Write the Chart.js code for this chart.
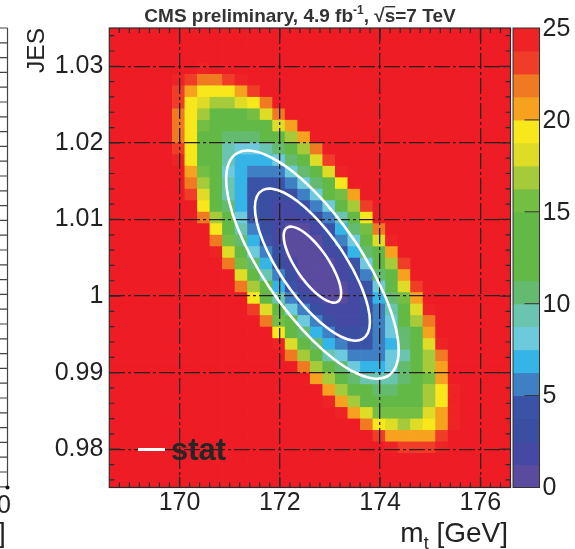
<!DOCTYPE html>
<html lang="en">
<head>
<meta charset="UTF-8">
<title>JES vs mt likelihood map</title>
<script src="https://cdn.jsdelivr.net/npm/chart.js@4.4.0/dist/chart.umd.min.js"></script>
<style>
  html, body { margin: 0; padding: 0; background: #fff; }
  #wrap { width: 575px; height: 549px; position: relative; }
</style>
</head>
<body>
<div id="wrap"><canvas id="lik"></canvas></div>
<script>
  const FONT = "'Liberation Sans', Arial, Helvetica, sans-serif";

  // bin centres of the map
  const mtBins = [168.725, 168.975, 169.225, 169.475, 169.725, 169.975, 170.225, 170.475,
    170.725, 170.975, 171.225, 171.475, 171.725, 171.975, 172.225, 172.475,
    172.725, 172.975, 173.225, 173.475, 173.725, 173.975, 174.225, 174.475,
    174.725, 174.975, 175.225, 175.475, 175.725, 175.975, 176.225, 176.475];
  // top row first
  const jesBins = [1.03425, 1.03275, 1.03125, 1.02975, 1.02825, 1.02675, 1.02525, 1.02375,
    1.02225, 1.02075, 1.01925, 1.01775, 1.01625, 1.01475, 1.01325, 1.01175,
    1.01025, 1.00875, 1.00725, 1.00575, 1.00425, 1.00275, 1.00125, 0.99975,
    0.99825, 0.99675, 0.99525, 0.99375, 0.99225, 0.99075, 0.98925, 0.98775,
    0.98625, 0.98475, 0.98325, 0.98175, 0.98025, 0.97875, 0.97725, 0.97575];

  // -2 dlnL per cell, read as colour band: 0-9 then A-J = band 10-19 (1.25 wide each).
  // rowStart = first m_t bin that is below 25, all other cells are above 25
  const rowStart = [0, 0, 0, 7, 5, 5, 5, 5, 5, 5, 5, 5, 6, 6, 6, 7, 7, 8, 8, 8,
    9, 10, 10, 11, 11, 12, 13, 13, 14, 15, 16, 17, 17, 18, 20, 21, 22, 0, 0, 0];
  const rowCodes = ['', '', '', 'J', 'JIHHIJ', 'IGFFFGI', 'IFEDDEFH', 'HFDBBBCEH',
    'HFCA99ABEG', 'HFB98889BDG', 'IFB976678ADH', 'JFB9755568AEI', 'GC96544468BEJ',
    'HD975333468BF', 'IEA753222469CG', 'FB8532112469DI', 'HD9632111247BF',
    'FA7421001358CH', 'HC8531000246AEJ', 'JEA6420001258BG', 'HC85210001369DI',
    'EA7420001248BG', 'HD95310001369EI', 'FB7421001358CG', 'IEA642111247AEJ',
    'HC9642112469DH', 'FB854223468BG', 'JEA85433458BEJ', 'HDA7644467ADH',
    'HDA865568ADG', 'GDA87778ACG', 'GDB9889ADFJ', 'JGDBAAABDFJ', 'JGECCCCEGJ',
    'HFEDEFGJ', 'IGGGGI', 'JIIIJ', '', '', ''];

  const zTicks = [0, 5, 10, 15, 20, 25];
  const zStep = 1.25;
  const zColors = ['#5a4b9f', '#4549a3', '#3a4ea2', '#3b53a6', '#3f80c4', '#35b4e8',
    '#6ccadc', '#69c5b0', '#64bb70', '#63b946', '#63b946', '#63b946', '#74be43',
    '#a6cb3a', '#dedc26', '#f8e71b', '#f6a21e', '#f07a22', '#ef3d28', '#ee2326'];
  const overColor = '#ee1c25';

  const mtTicks = [170, 172, 174, 176];
  const jesTicks = [0.98, 0.99, 1, 1.01, 1.02, 1.03];
  const jesTickLabels = ['0.98', '0.99', '1', '1.01', '1.02', '1.03'];

  // stat contours (1, 2, 3 sigma)
  const sig1mt = [173.055, 172.937, 172.798, 172.650, 172.502, 172.363, 172.245, 172.154, 172.096,
    172.077, 172.096, 172.154, 172.245, 172.363, 172.502, 172.650, 172.798, 172.937, 173.055,
    173.146, 173.204, 173.223, 173.204, 173.146, 173.055];
  const sig1jes = [1.003789, 1.005082, 1.006309, 1.007385, 1.008237, 1.008808, 1.009057, 1.008969,
    1.008548, 1.007825, 1.006848, 1.005683, 1.004411, 1.003118, 1.001891, 1.000815, 0.999963,
    0.999392, 0.999143, 0.999231, 0.999652, 1.000375, 1.001352, 1.002517, 1.003789];
  const sig2mt = [173.461, 173.223, 172.947, 172.650, 172.353, 172.077, 171.839, 171.657, 171.542,
    171.503, 171.542, 171.657, 171.839, 172.077, 172.353, 172.650, 172.947, 173.223, 173.461,
    173.643, 173.758, 173.797, 173.758, 173.643, 173.461];
  const sig2jes = [1.003478, 1.006065, 1.008518, 1.010670, 1.012374, 1.013515, 1.014013, 1.013836,
    1.012995, 1.011550, 1.009595, 1.007267, 1.004722, 1.002135, 0.999682, 0.997530, 0.995826,
    0.994685, 0.994187, 0.994364, 0.995205, 0.996650, 0.998605, 1.000933, 1.003478];
  const sig3mt = [173.866, 173.510, 173.095, 172.650, 172.205, 171.790, 171.434, 171.161, 170.989,
    170.930, 170.989, 171.161, 171.434, 171.790, 172.205, 172.650, 173.095, 173.510, 173.866,
    174.140, 174.311, 174.370, 174.311, 174.140, 173.866];
  const sig3jes = [1.003167, 1.007047, 1.010728, 1.013955, 1.016512, 1.018222, 1.018970, 1.018705,
    1.017444, 1.015275, 1.012343, 1.008850, 1.005033, 1.001153, 0.997472, 0.994245, 0.991688,
    0.989978, 0.989230, 0.989495, 0.990756, 0.992925, 0.995857, 0.999350, 1.003167];

  const CODE = '0123456789ABCDEFGHIJ';
  function cellValue(r, k) {
    const i = k - rowStart[r];
    if (i < 0 || i >= rowCodes[r].length) return 26;
    return CODE.indexOf(rowCodes[r][i]) * zStep + zStep / 2;
  }
  function cellColor(v) {
    return v >= 25 ? overColor : zColors[Math.floor(v / zStep)];
  }
  const pts = (xs, ys) => xs.map((x, i) => ({ x: x, y: ys[i] }));

  const heatmap = {
    id: 'heatmap',
    beforeDraw(chart) {
      const { ctx, chartArea: a, scales: { x, y } } = chart;
      const hw = (mtBins[1] - mtBins[0]) / 2;
      const hh = (jesBins[0] - jesBins[1]) / 2;
      ctx.save();
      ctx.beginPath();
      ctx.rect(a.left, a.top, a.right - a.left, a.bottom - a.top);
      ctx.clip();
      jesBins.forEach((jes, r) => {
        const t = y.getPixelForValue(jes + hh), b = y.getPixelForValue(jes - hh);
        mtBins.forEach((mt, k) => {
          const l = x.getPixelForValue(mt - hw), rt = x.getPixelForValue(mt + hw);
          ctx.fillStyle = cellColor(cellValue(r, k));
          ctx.fillRect(l, t, rt - l + 0.7, b - t + 0.7);
        });
      });
      ctx.restore();
    }
  };

  const decor = {
    id: 'decor',
    afterDraw(chart) {
      const { ctx, chartArea: a, scales: { x, y, z } } = chart;
      ctx.save();
      // frame + inward ticks
      ctx.strokeStyle = '#2a2a2a';
      ctx.lineWidth = 1.2;
      ctx.strokeRect(a.left, a.top, a.right - a.left, a.bottom - a.top);
      ctx.beginPath();
      for (let v = 168.8; v < 176.6; v += 0.2) {
        const px = x.getPixelForValue(v);
        const len = Math.abs(v / 2 - Math.round(v / 2)) < 0.01 ? 11 : 5;
        ctx.moveTo(px, a.bottom); ctx.lineTo(px, a.bottom - len);
        ctx.moveTo(px, a.top); ctx.lineTo(px, a.top + len);
      }
      for (let v = 0.976; v < 1.035; v += 0.002) {
        const py = y.getPixelForValue(v);
        const len = Math.abs(v * 100 - Math.round(v * 100)) < 0.01 ? 11 : 5;
        ctx.moveTo(a.left, py); ctx.lineTo(a.left + len, py);
        ctx.moveTo(a.right, py); ctx.lineTo(a.right - len, py);
      }
      ctx.stroke();

      // colour bar
      const bl = a.right + 2.5, br = a.right + 29;
      zColors.forEach((c, i) => {
        const t = z.getPixelForValue((i + 1) * zStep), b = z.getPixelForValue(i * zStep);
        ctx.fillStyle = c;
        ctx.fillRect(bl, t, br - bl, b - t + 0.5);
      });
      ctx.strokeStyle = '#333';
      ctx.lineWidth = 1;
      ctx.strokeRect(bl, z.getPixelForValue(25), br - bl, z.getPixelForValue(0) - z.getPixelForValue(25));
      ctx.beginPath();
      zTicks.slice(1, -1).forEach(v => {
        const py = z.getPixelForValue(v);
        ctx.moveTo(br, py); ctx.lineTo(br - 15, py);
      });
      ctx.stroke();
      ctx.fillStyle = '#222';
      ctx.font = '25px ' + FONT;
      ctx.textAlign = 'left';
      ctx.textBaseline = 'middle';
      zTicks.forEach(v => ctx.fillText(String(v), br + 3, z.getPixelForValue(v) + 1));

      // title
      const big = 'bold 19px ' + FONT, small = 'bold 12px ' + FONT;
      const parts = [
        { t: 'CMS preliminary, 4.9 fb', f: big, dy: 0 },
        { t: '-1', f: small, dy: -8 },
        { t: ', \u221A', f: big, dy: 0 },
        { t: 's', f: big, dy: 0, over: true },
        { t: '=7 TeV', f: big, dy: 0 }
      ];
      let w = 0;
      parts.forEach(p => { ctx.font = p.f; p.w = ctx.measureText(p.t).width; w += p.w; });
      let tx = 300 - w / 2;
      ctx.fillStyle = '#333';
      ctx.textBaseline = 'alphabetic';
      parts.forEach(p => {
        ctx.font = p.f;
        ctx.fillText(p.t, tx, 22 + p.dy);
        if (p.over) ctx.fillRect(tx, 6, p.w, 1.4);
        tx += p.w;
      });

      // axis titles
      ctx.fillStyle = '#222';
      ctx.font = '28px ' + FONT;
      ctx.textAlign = 'right';
      ctx.fillText('[GeV]', 508, 542);
      const gw = ctx.measureText(' [GeV]').width;
      ctx.font = '18px ' + FONT;
      const tw = ctx.measureText('t').width;
      ctx.fillText('t', 508 - gw, 549);
      ctx.font = '28px ' + FONT;
      ctx.fillText('m', 508 - gw - tw, 542);
      ctx.save();
      ctx.font = '24.5px ' + FONT;
      ctx.translate(43.5, 28);
      ctx.rotate(-Math.PI / 2);
      ctx.fillText('JES', 0, 0);
      ctx.restore();

      // legend
      ctx.strokeStyle = '#fff';
      ctx.lineWidth = 3;
      ctx.beginPath();
      ctx.moveTo(138, 449.5); ctx.lineTo(165, 449.5);
      ctx.stroke();
      ctx.fillStyle = '#262626';
      ctx.font = 'bold 31px ' + FONT;
      ctx.textAlign = 'left';
      ctx.fillText('stat', 171, 460);

      // edge of the neighbouring panel
      ctx.strokeStyle = '#444';
      ctx.lineWidth = 1.2;
      ctx.beginPath();
      ctx.moveTo(7.5, a.top); ctx.lineTo(7.5, a.bottom);
      for (let py = a.top; py < a.bottom; py += 14.8) {
        ctx.moveTo(0, py); ctx.lineTo(7.5, py);
      }
      ctx.stroke();
      ctx.fillStyle = '#111';
      ctx.beginPath();
      ctx.arc(7.5, a.bottom, 2, 0, Math.PI * 2);
      ctx.fill();
      ctx.fillStyle = '#222';
      ctx.font = '25px ' + FONT;
      ctx.textAlign = 'center';
      ctx.fillText('0', 4, 513);
      ctx.font = '28px ' + FONT;
      ctx.textAlign = 'left';
      ctx.fillText(']', -2, 542);
      ctx.restore();
    }
  };

  const lineStyle = { showLine: true, borderColor: '#ffffff', borderWidth: 2.6, pointRadius: 0, tension: 0.4, fill: false };

  new Chart(document.getElementById('lik'), {
    type: 'scatter',
    data: {
      datasets: [
        Object.assign({ label: '1 sigma', data: pts(sig1mt, sig1jes) }, lineStyle),
        Object.assign({ label: '2 sigma', data: pts(sig2mt, sig2jes) }, lineStyle),
        Object.assign({ label: '3 sigma', data: pts(sig3mt, sig3jes) }, lineStyle)
      ]
    },
    options: {
      responsive: true,
      maintainAspectRatio: false,
      animation: false,
      events: [],
      layout: { padding: { top: 28, left: 0, right: 0, bottom: 0 } },
      plugins: { legend: { display: false }, tooltip: { enabled: false } },
      scales: {
        x: {
          type: 'linear', position: 'bottom', min: 168.6, max: 176.6,
          afterBuildTicks: s => { s.ticks = mtTicks.map(v => ({ value: v })); },
          ticks: { color: '#222', font: { family: FONT, size: 25 }, padding: 1, maxRotation: 0, autoSkip: false },
          grid: { color: '#2b1d1d', lineWidth: 1.3, drawTicks: false },
          border: { display: false, dash: [16, 3, 3, 3] },
          afterFit: s => { s.height = 61.5; }
        },
        y: {
          type: 'linear', position: 'left', min: 0.975, max: 1.035,
          afterBuildTicks: s => { s.ticks = jesTicks.map(v => ({ value: v })); },
          ticks: { color: '#222', font: { family: FONT, size: 25 }, padding: 6, autoSkip: false,
            callback: (v, i) => jesTickLabels[i] },
          grid: { color: '#2b1d1d', lineWidth: 1.3, drawTicks: false },
          border: { display: false, dash: [16, 3, 3, 3] },
          afterFit: s => { s.width = 109.3; }
        },
        z: {
          type: 'linear', axis: 'y', position: 'right', min: 0, max: 25,
          ticks: { display: false },
          grid: { display: false, drawTicks: false },
          border: { display: false },
          afterFit: s => { s.width = 64.5; }
        }
      }
    },
    plugins: [heatmap, decor]
  });
</script>
</body>
</html>
